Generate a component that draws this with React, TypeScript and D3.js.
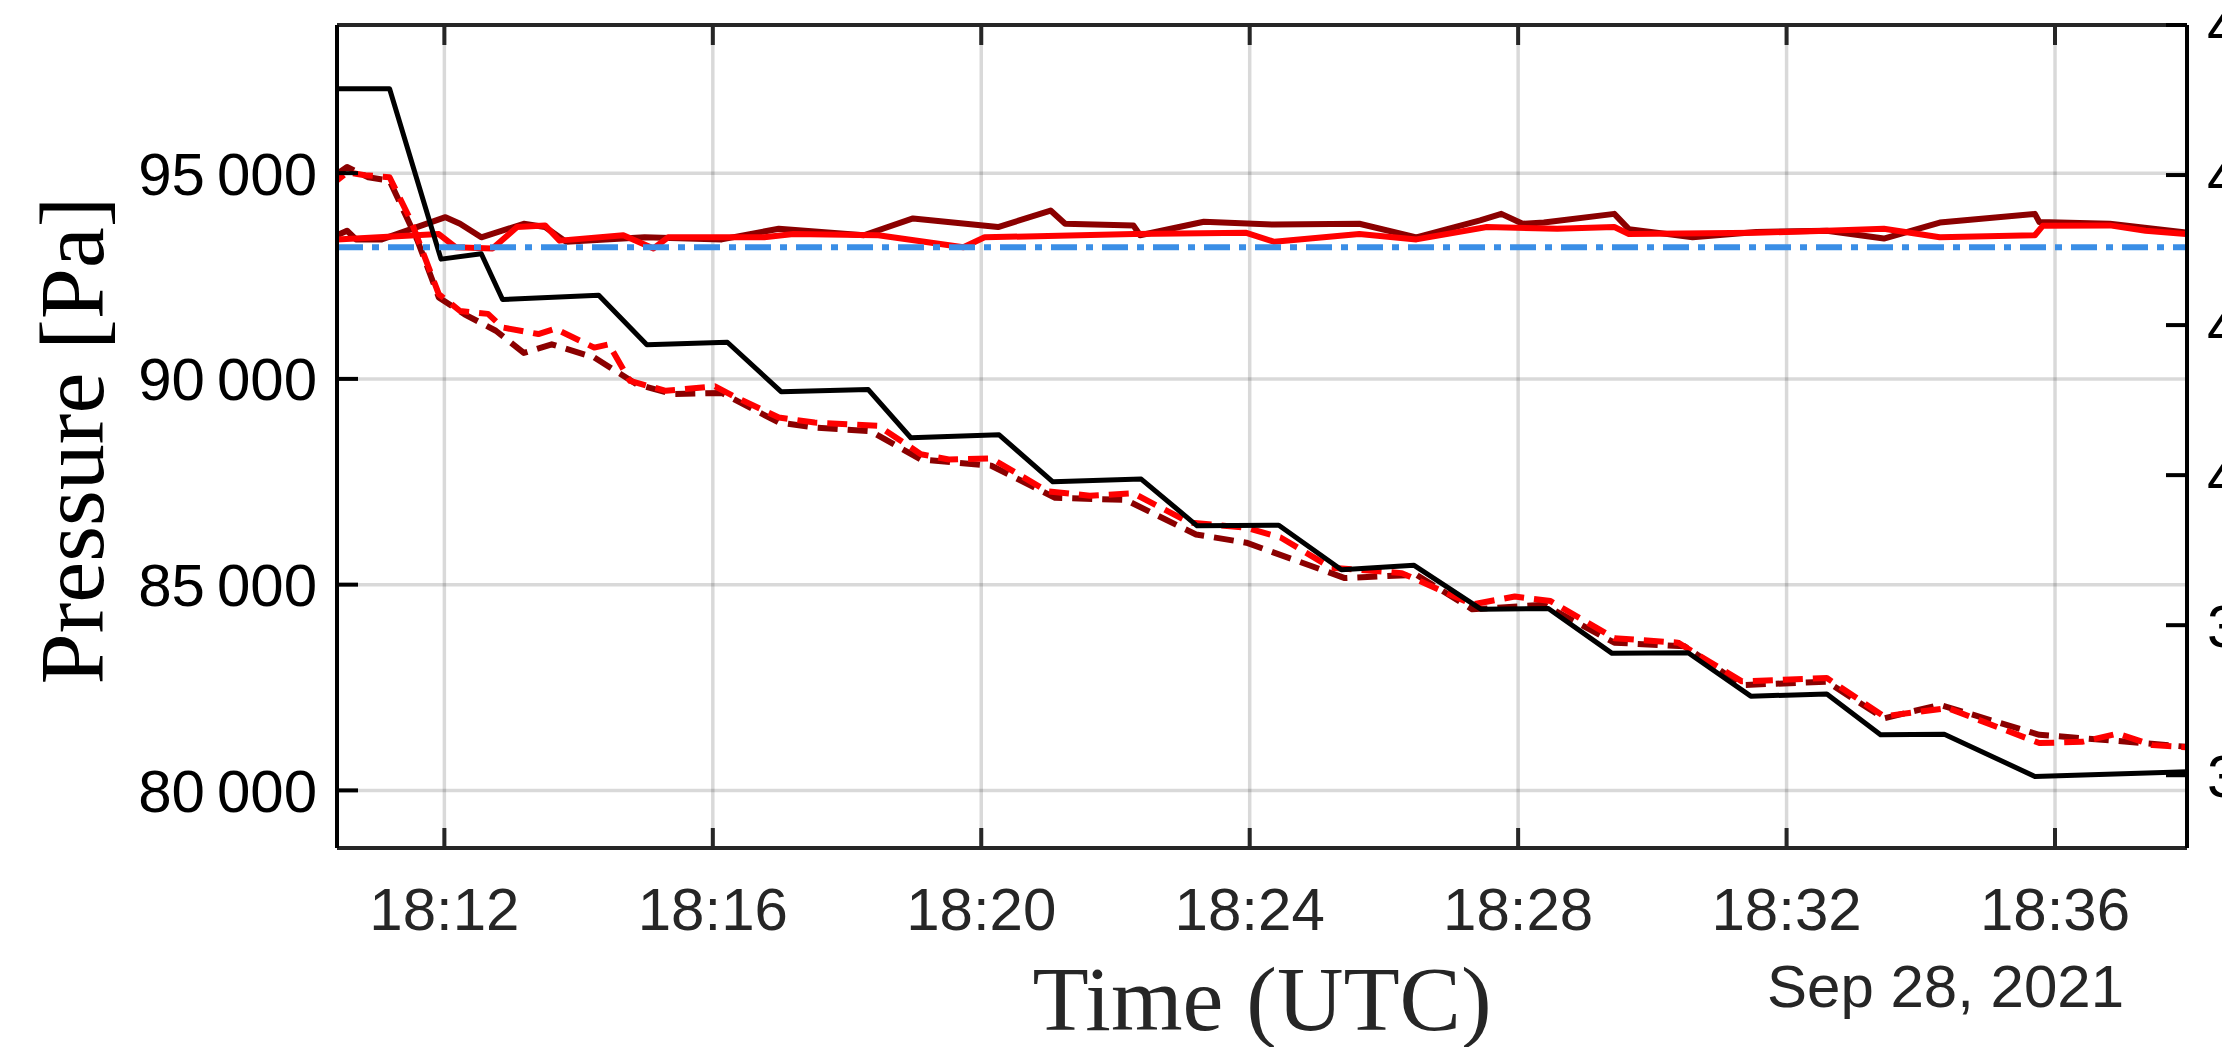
import * as d3 from "d3";
import React from "react";

// time stamps (UTC, 2021-09-28) and pressures [Pa]
const refTime = ["18:10:24", "18:11:11", "18:11:57", "18:12:33", "18:12:52", "18:14:18", "18:15:01", "18:16:13", "18:17:01", "18:18:19", "18:18:57", "18:20:16", "18:21:04", "18:22:23", "18:23:13", "18:24:26", "18:25:22", "18:26:27", "18:27:27", "18:28:27", "18:29:24", "18:30:32", "18:31:28", "18:32:36", "18:33:24", "18:34:21", "18:35:42", "18:37:58"];
const refPressure = [97050, 97050, 92910, 93040, 91930, 92030, 90830, 90890, 89690, 89740, 88570, 88640, 87500, 87565, 86430, 86445, 85360, 85470, 84400, 84420, 83330, 83345, 82290, 82340, 81350, 81365, 80340, 80455];

const redDashTime = ["18:10:24", "18:10:33", "18:10:49", "18:11:11", "18:11:30", "18:11:55", "18:12:14", "18:12:39", "18:12:52", "18:13:24", "18:13:39", "18:14:14", "18:14:27", "18:14:46", "18:15:18", "18:16:02", "18:16:18", "18:16:59", "18:17:31", "18:18:28", "18:19:06", "18:19:31", "18:20:09", "18:20:59", "18:21:37", "18:22:16", "18:23:06", "18:23:57", "18:24:28", "18:25:13", "18:26:16", "18:27:19", "18:27:57", "18:28:29", "18:29:26", "18:30:23", "18:31:20", "18:32:36", "18:33:27", "18:34:24", "18:35:46", "18:36:24", "18:36:56", "18:37:27", "18:37:57"];
const redDashPressure = [94820, 95020, 94950, 94900, 93850, 92060, 91650, 91580, 91250, 91090, 91220, 90760, 90840, 89950, 89710, 89820, 89590, 89060, 88940, 88860, 88170, 88040, 88070, 87270, 87160, 87220, 86510, 86380, 86140, 85410, 85280, 84520, 84710, 84600, 83700, 83590, 82650, 82730, 81800, 82000, 81150, 81180, 81380, 81100, 81050];

const darkDashTime = ["18:10:24", "18:10:33", "18:10:52", "18:11:11", "18:11:36", "18:11:55", "18:12:18", "18:12:46", "18:13:11", "18:13:36", "18:14:14", "18:14:52", "18:15:24", "18:16:08", "18:16:59", "18:17:31", "18:18:21", "18:19:06", "18:20:09", "18:21:06", "18:22:09", "18:23:12", "18:23:57", "18:25:25", "18:26:29", "18:27:19", "18:28:23", "18:29:26", "18:30:29", "18:31:20", "18:32:36", "18:33:27", "18:34:17", "18:35:46", "18:37:02", "18:37:57"];
const darkDashPressure = [94980, 95150, 94900, 94820, 93360, 91980, 91570, 91170, 90630, 90840, 90520, 89870, 89630, 89660, 88940, 88820, 88730, 88040, 87890, 87110, 87060, 86220, 86020, 85160, 85240, 84400, 84510, 83590, 83500, 82560, 82640, 81750, 82080, 81350, 81190, 81060];

const darkSolidTime = ["18:10:24", "18:10:33", "18:10:41", "18:11:04", "18:12:01", "18:12:14", "18:12:33", "18:13:11", "18:13:30", "18:13:49", "18:14:59", "18:16:08", "18:16:59", "18:18:15", "18:18:59", "18:20:15", "18:21:02", "18:21:15", "18:22:16", "18:22:22", "18:23:19", "18:24:22", "18:25:38", "18:26:29", "18:27:26", "18:27:45", "18:28:04", "18:28:23", "18:29:26", "18:29:39", "18:30:36", "18:31:33", "18:32:36", "18:33:27", "18:34:17", "18:35:42", "18:35:46", "18:36:49", "18:37:57"];
const darkSolidPressure = [93490, 93600, 93390, 93390, 93930, 93770, 93440, 93770, 93690, 93330, 93440, 93390, 93650, 93490, 93900, 93690, 94090, 93770, 93730, 93490, 93820, 93750, 93770, 93440, 93850, 94010, 93770, 93800, 94010, 93640, 93440, 93570, 93600, 93410, 93800, 94010, 93810, 93770, 93560];

const redSolidTime = ["18:10:24", "18:11:55", "18:12:10", "18:12:43", "18:13:05", "18:13:30", "18:13:43", "18:14:40", "18:15:07", "18:15:20", "18:16:46", "18:17:12", "18:18:28", "18:19:44", "18:20:03", "18:22:16", "18:23:57", "18:24:22", "18:25:38", "18:26:29", "18:27:32", "18:28:35", "18:29:26", "18:29:39", "18:31:33", "18:32:36", "18:33:27", "18:34:17", "18:35:42", "18:35:49", "18:36:49", "18:37:21", "18:37:57"];
const redSolidPressure = [93390, 93520, 93200, 93170, 93690, 93730, 93360, 93490, 93170, 93440, 93440, 93520, 93490, 93200, 93440, 93520, 93550, 93330, 93520, 93390, 93690, 93650, 93690, 93520, 93550, 93600, 93650, 93440, 93490, 93720, 93730, 93600, 93520];

const baselinePressure = 93200;

const timeTicks = ["18:12", "18:16", "18:20", "18:24", "18:28", "18:32", "18:36"];
const pressureTicks = [80000, 85000, 90000, 95000];
const rightTicks = [36, 38, 40, 42, 44, 46];
const timeDomain = ["18:10:24", "18:37:58"];

const W = 2222;
const H = 1047;
const left = 337;
const right = 2187;
const top = 25;
const bottom = 848;

const parse = d3.utcParse("%Y-%m-%d %H:%M:%S");
const toDate = (t: string) => parse(`2021-09-28 ${t.length === 5 ? t + ":00" : t}`)!;

const x = d3.scaleUtc().domain(timeDomain.map(toDate)).range([left, right]);
const y = d3.scaleLinear().domain([78600, 98600]).range([bottom, top]);
const yRight = d3.scaleLinear().domain([35.03, 46]).range([bottom, top]);

const lineGen = d3
  .line<[Date, number]>()
  .x((d) => x(d[0]))
  .y((d) => y(d[1]));

const path = (times: string[], values: number[]) =>
  lineGen(times.map((t, i) => [toDate(t), values[i]]))!;

const fmtPa = (v: number) => {
  const s = String(v);
  return s.slice(0, s.length - 3) + "\u2009" + s.slice(-3);
};

export default function App() {
  const sans = "'Liberation Sans', Arial, Helvetica, sans-serif";
  const serif = "'Liberation Serif', 'Times New Roman', serif";
  return (
    <svg
      width={W}
      height={H}
      style={{ position: "absolute", left: 0, top: 0, background: "#fff" }}
    >
      <rect x={0} y={0} width={W} height={H} fill="#fff" />
      {/* grid */}
      <g stroke="#000" strokeOpacity={0.15} strokeWidth={3.5}>
        {timeTicks.map((t) => (
          <line key={t} x1={x(toDate(t))} x2={x(toDate(t))} y1={top} y2={bottom} />
        ))}
        {pressureTicks.map((p) => (
          <line key={p} x1={left} x2={right} y1={y(p)} y2={y(p)} />
        ))}
      </g>

      {/* data */}
      <g fill="none" strokeLinejoin="round">
        <path d={path(darkSolidTime, darkSolidPressure)} stroke="#8b0000" strokeWidth={6} />
        <path d={path(redSolidTime, redSolidPressure)} stroke="#ff0000" strokeWidth={6} />
        <path
          d={path(darkDashTime, darkDashPressure)}
          stroke="#8b0000"
          strokeWidth={6}
          strokeDasharray="20,10"
        />
        <path
          d={path(redDashTime, redDashPressure)}
          stroke="#ff0000"
          strokeWidth={6}
          strokeDasharray="20,10"
          strokeDashoffset={11}
        />
        <path d={path(refTime, refPressure)} stroke="#000" strokeWidth={5} />
        <line
          x1={left}
          x2={right}
          y1={y(baselinePressure)}
          y2={y(baselinePressure)}
          stroke="#3a8ee6"
          strokeWidth={6}
          strokeDasharray="26,9,7,9"
        />
      </g>

      {/* axes box */}
      <g strokeWidth={4}>
        <line x1={left} x2={right} y1={top} y2={top} stroke="#262626" />
        <line x1={left} x2={right} y1={bottom} y2={bottom} stroke="#262626" />
        <line x1={left} x2={left} y1={top} y2={bottom} stroke="#000" />
        <line x1={right} x2={right} y1={top} y2={bottom} stroke="#000" />
      </g>

      {/* ticks */}
      <g strokeWidth={4}>
        {timeTicks.map((t) => (
          <g key={t} stroke="#262626">
            <line x1={x(toDate(t))} x2={x(toDate(t))} y1={bottom} y2={bottom - 20} />
            <line x1={x(toDate(t))} x2={x(toDate(t))} y1={top} y2={top + 20} />
          </g>
        ))}
        {pressureTicks.map((p) => (
          <line key={p} x1={left} x2={left + 21} y1={y(p)} y2={y(p)} stroke="#000" />
        ))}
        {rightTicks.map((r) => (
          <line key={r} x1={right} x2={right - 21} y1={yRight(r)} y2={yRight(r)} stroke="#000" />
        ))}
      </g>

      {/* tick labels */}
      <g fontFamily={sans} fontSize={60}>
        {timeTicks.map((t) => (
          <text key={t} x={x(toDate(t))} y={930} textAnchor="middle" fill="#262626">
            {t}
          </text>
        ))}
        {pressureTicks.map((p) => (
          <text key={p} x={left - 20} y={y(p)} dy="0.36em" textAnchor="end" fill="#000">
            {fmtPa(p)}
          </text>
        ))}
        {rightTicks.map((r) => (
          <text key={r} x={right + 20} y={yRight(r)} dy="0.36em" textAnchor="start" fill="#000">
            {r}
          </text>
        ))}
        <text x={2124} y={1007} textAnchor="end" fill="#262626">
          Sep 28, 2021
        </text>
      </g>

      {/* axis titles */}
      <text
        x={(left + right) / 2}
        y={1030}
        textAnchor="middle"
        fontFamily={serif}
        fontSize={92}
        fill="#262626"
      >
        Time (UTC)
      </text>
      <text
        transform={`translate(103,${(top + bottom) / 2 + 4}) rotate(-90)`}
        textAnchor="middle"
        fontFamily={serif}
        fontSize={92}
        fill="#000"
      >
        Pressure [Pa]
      </text>
    </svg>
  );
}
